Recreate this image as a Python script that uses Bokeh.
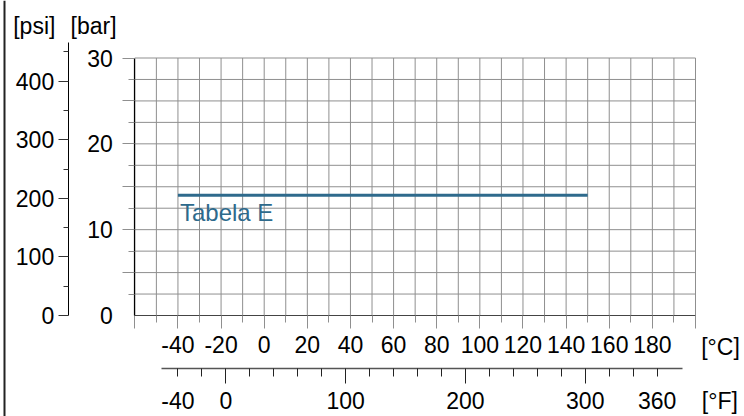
from bokeh.plotting import figure
from bokeh.models import LinearAxis, Range1d, FixedTicker, Label, Span
from bokeh.embed import file_html
from bokeh.resources import INLINE

# ---------------- data ----------------
temp_c = [-40, 150]
pressure_bar = [14, 14]
series_label = "Tabela E"

grid_c = [-60, -50, -40, -30, -20, -10, 0, 10, 20, 30, 40, 50, 60, 70, 80, 90,
          100, 110, 120, 130, 140, 150, 160, 170, 180, 190, 200]
grid_bar = [0, 2.5, 5, 7.5, 10, 12.5, 15, 17.5, 20, 22.5, 25, 27.5, 30]

bar_tick_major = [5, 10, 15, 20, 25, 30]
bar_tick_minor = [2.5, 7.5, 12.5, 17.5, 22.5, 27.5]
bar_labels = [0, 10, 20, 30]

psi_tick_major = [0, 100, 200, 300, 400]
psi_tick_minor = [50, 150, 250, 350, 450]

c_tick_major = [-60, -40, -20, 0, 20, 40, 60, 80, 100, 120, 140, 160, 180, 200]
c_tick_minor = [-50, -30, -10, 10, 30, 50, 70, 90, 110, 130, 150, 170, 190]
c_labels = [-40, -20, 0, 20, 40, 60, 80, 100, 120, 140, 160, 180]

f_tick_major = [0, 100, 200, 300]
f_tick_minor = [-40, -20, 20, 40, 60, 80, 120, 140, 160, 180, 220, 240, 260,
                280, 320, 340, 360]
f_labels = [-40, 0, 100, 200, 300, 360]

unit_psi, unit_bar, unit_c, unit_f = "[psi]", "[bar]", "[°C]", "[°F]"

# ---------------- layout constants ----------------
W, H = 744, 416
PAGE = 0
C0_PX = 263.7 - PAGE       # figure px of 0 °C
PX_PER_C = 2.1565
BAR0_PY = 315 - PAGE       # figure px (from top) of 0 bar
PX_PER_BAR = 8.583
PSI_PER_BAR = 14.65

def cx(page_x):
    return (page_x - PAGE - C0_PX) / PX_PER_C

def by(page_y):
    return (BAR0_PY - (page_y - PAGE)) / PX_PER_BAR

x0, x1 = -C0_PX / PX_PER_C, (W - C0_PX) / PX_PER_C
y0, y1 = -(H - BAR0_PY) / PX_PER_BAR, BAR0_PY / PX_PER_BAR

FONT = "Liberation Sans"
FS = "23px"
GRID = "#8f8f8f"
BLUE = "#2e6a8c"

p = figure(width=W, height=H, x_range=Range1d(x0, x1), y_range=Range1d(y0, y1),
           output_backend="svg", toolbar_location=None,
           x_axis_type=None, y_axis_type=None,
           min_border=0, min_border_left=0, min_border_right=0,
           min_border_top=0, min_border_bottom=0)
p.outline_line_color = None
p.background_fill_color = "white"
p.border_fill_color = "white"
p.extra_x_ranges = {"F": Range1d(x0 * 1.8 + 32, x1 * 1.8 + 32)}
p.extra_y_ranges = {"psi": Range1d(y0 * PSI_PER_BAR, y1 * PSI_PER_BAR)}

# grid
p.segment(x0=[grid_c[0]] * len(grid_bar), x1=[grid_c[-1]] * len(grid_bar),
          y0=grid_bar, y1=grid_bar, line_color=GRID, line_width=1)
p.segment(x0=grid_c, x1=grid_c, y0=[grid_bar[0]] * len(grid_c),
          y1=[grid_bar[-1]] * len(grid_c), line_color=GRID, line_width=1)

# series
p.line(temp_c, pressure_bar, line_color=BLUE, line_width=3)
p.add_layout(Label(x=temp_c[0], y=pressure_bar[0], text=series_label,
                   x_offset=2, y_offset=-17, text_baseline="alphabetic",
                   text_align="left", text_color=BLUE,
                   text_font=FONT, text_font_size="24px"))


def style_labels(ax):
    ax.major_label_text_font = FONT
    ax.major_label_text_font_size = FS
    ax.major_label_text_color = "black"


def no_labels(ax):
    ax.major_label_text_color = None
    ax.major_label_text_font_size = "1px"
    ax.major_label_standoff = 0


def hyphen_overrides(vals):
    return {v: str(v) for v in vals if v < 0}

# ---- bar axis: gray tick extensions ----
ax = LinearAxis(fixed_location=grid_c[0], bounds=(0, 30),
                ticker=FixedTicker(ticks=bar_tick_major, minor_ticks=bar_tick_minor))
ax.axis_line_color = "black"
ax.axis_line_width = 1.2
ax.major_tick_line_color = GRID
ax.minor_tick_line_color = GRID
ax.major_tick_in = 0
ax.major_tick_out = 12
ax.minor_tick_in = 0
ax.minor_tick_out = 6
no_labels(ax)
p.add_layout(ax, "left")

# bar axis labels
ax = LinearAxis(fixed_location=grid_c[0], bounds=(0, 30),
                ticker=FixedTicker(ticks=bar_labels))
ax.axis_line_color = None
ax.major_tick_line_color = None
ax.minor_tick_line_color = None
ax.major_tick_out = 0
ax.minor_tick_out = 0
ax.major_label_standoff = 22
style_labels(ax)
p.add_layout(ax, "left")

# ---- psi axis ----
ax = LinearAxis(y_range_name="psi", fixed_location=cx(67.7),
                bounds=(0, by(41.7) * PSI_PER_BAR),
                ticker=FixedTicker(ticks=psi_tick_major, minor_ticks=psi_tick_minor))
ax.axis_line_color = "black"
ax.major_tick_line_color = "#333333"
ax.minor_tick_line_color = "#333333"
ax.major_tick_in = 0
ax.major_tick_out = 10
ax.minor_tick_in = 0
ax.minor_tick_out = 5
ax.major_label_standoff = 4
style_labels(ax)
p.add_layout(ax, "left")

# ---- °C axis ticks ----
ax = LinearAxis(fixed_location=0, bounds=(grid_c[0], grid_c[-1]),
                ticker=FixedTicker(ticks=c_tick_major, minor_ticks=c_tick_minor))
ax.axis_line_color = "#444444"
ax.axis_line_width = 1.2
ax.major_tick_line_color = GRID
ax.minor_tick_line_color = GRID
ax.major_tick_in = 0
ax.major_tick_out = 13
ax.minor_tick_in = 0
ax.minor_tick_out = 7
no_labels(ax)
p.add_layout(ax, "below")

ax = LinearAxis(fixed_location=0, bounds=(grid_c[0], grid_c[-1]),
                ticker=FixedTicker(ticks=c_labels))
ax.axis_line_color = None
ax.major_tick_line_color = None
ax.minor_tick_line_color = None
ax.major_tick_out = 0
ax.minor_tick_out = 0
ax.major_label_standoff = 20
ax.major_label_overrides = hyphen_overrides(c_labels)
style_labels(ax)
p.add_layout(ax, "below")

# ---- °F axis ----
f_line_y = by(368.3)
f_bounds = ((cx(161.3)) * 1.8 + 32, (cx(681.7)) * 1.8 + 32)
ax = LinearAxis(x_range_name="F", fixed_location=f_line_y, bounds=f_bounds,
                ticker=FixedTicker(ticks=f_tick_major, minor_ticks=f_tick_minor))
ax.axis_line_color = "#555555"
ax.axis_line_width = 1.5
ax.major_tick_line_color = "#222222"
ax.minor_tick_line_color = "#222222"
ax.major_tick_in = 0
ax.major_tick_out = 15
ax.minor_tick_in = 0
ax.minor_tick_out = 8
no_labels(ax)
p.add_layout(ax, "below")

ax = LinearAxis(x_range_name="F", fixed_location=f_line_y, bounds=f_bounds,
                ticker=FixedTicker(ticks=f_labels))
ax.axis_line_color = None
ax.major_tick_line_color = None
ax.minor_tick_line_color = None
ax.major_tick_out = 0
ax.minor_tick_out = 0
ax.major_label_standoff = 23
ax.major_label_overrides = hyphen_overrides(f_labels)
style_labels(ax)
p.add_layout(ax, "below")

# ---- unit labels ----
for txt, px, py in [(unit_psi, 12.7, 25.3), (unit_bar, 70, 25.3),
                    (unit_c, 700.7, 346), (unit_f, 701.3, 400)]:
    p.add_layout(Label(x=cx(px), y=by(py), text=txt, text_align="left",
                       text_baseline="middle", text_color="black",
                       text_font=FONT, text_font_size=FS))

# left border line
p.add_layout(Span(location=cx(4), dimension="height", line_color="#222222",
                  line_width=2))

open("out.html", "w").write(file_html(p, INLINE))
